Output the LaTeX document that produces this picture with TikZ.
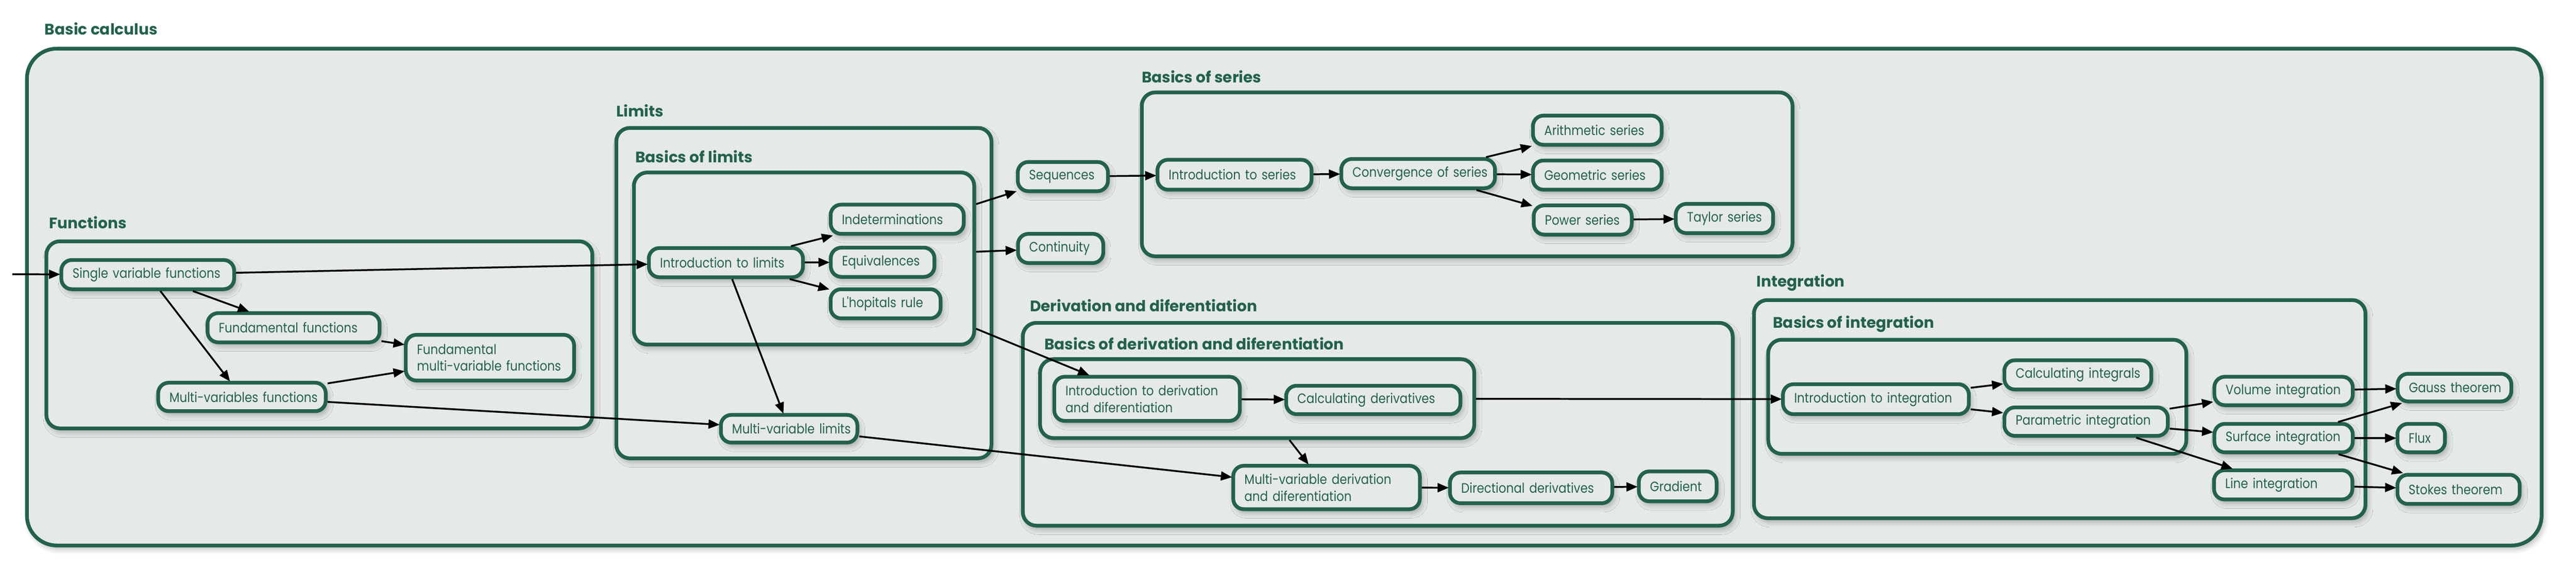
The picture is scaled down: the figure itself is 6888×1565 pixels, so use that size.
\documentclass[tikz,border=0pt]{standalone}
\usepackage{fontspec}
\setmainfont{Poppins}
\newfontfamily\ndfont{Poppins}[FakeStretch=0.87]
\newfontfamily\lblfont{Poppins}
\usetikzlibrary{arrows.meta,shadows.blur}
\definecolor{dg}{RGB}{35,97,79}
\definecolor{bg}{RGB}{229,233,231}
\begin{document}
\begin{tikzpicture}[x=0.25pt,y=-0.25pt,
  shad/.style={blur shadow={shadow xshift=1.5pt,shadow yshift=-2.5pt,shadow blur radius=3.5pt,shadow opacity=28}},
  grp/.style={draw=dg,fill=bg,line width=2.5pt,rounded corners=9pt,inner sep=0pt,shad},
  nd/.style={draw=dg,fill=bg,line width=2.5pt,rounded corners=7pt,text=dg,
    font=\ndfont\fontsize{9.1}{11.2}\selectfont,align=left,inner xsep=7.5pt,inner ysep=0pt,shad},
  glabel/.style={text=dg,font=\lblfont\bfseries\fontsize{10.2}{12}\selectfont,anchor=base west,inner sep=0pt},
  arr/.style={-{Triangle[length=7.5pt,width=6pt]},line width=1.2pt,black,shorten >=-0.5pt}
]
\useasboundingbox (0,0) rectangle (6888,1565);
% groups
\node[grp,rounded corners=20pt,minimum width=1681pt,minimum height=332pt] (outer) at (3434,794) {};
\node[glabel] (louter) at (119,93) {Basic calculus};
\node[grp,minimum width=365pt,minimum height=125pt] (fun) at (854,895) {};
\node[glabel] (lfun) at (131,611) {Functions};
\node[grp,minimum width=250.75pt,minimum height=220.75pt] (lim) at (2149.5,783.5) {};
\node[glabel] (llim) at (1647,312) {Limits};
\node[grp,minimum width=227.5pt,minimum height=115pt] (bol) at (2150,691) {};
\node[glabel] (lbol) at (1698,435) {Basics of limits};
\node[grp,minimum width=435pt,minimum height=109.5pt] (bos) at (3923,466) {};
\node[glabel] (lbos) at (3052,221) {Basics of series};
\node[grp,minimum width=474.5pt,minimum height=135.5pt] (der) at (3684,1134) {};
\node[glabel] (lder) at (2753,833) {Derivation and diferentiation};
\node[grp,minimum width=290.25pt,minimum height=52.75pt] (bod) at (3361.5,1065.5) {};
\node[glabel] (lbod) at (2792,935) {Basics of derivation and diferentiation};
\node[grp,minimum width=408.75pt,minimum height=145.75pt] (int) at (5507.5,1093.5) {};
\node[glabel] (lint) at (4696,767) {Integration};
\node[grp,minimum width=279.5pt,minimum height=76.25pt] (boi) at (5287,1060.5) {};
\node[glabel] (lboi) at (4740,877) {Basics of integration};
% nodes
\node[nd,text width=100.5pt,minimum height=19.5pt] (svf) at (395,734) {\mbox{Single variable functions}};
\node[nd,text width=100pt,minimum height=19.5pt] (ff) at (785,876) {\mbox{Fundamental functions}};
\node[nd,text width=97.5pt,minimum height=30.5pt] (fmvf) at (1310,956) {\mbox{Fundamental}\\\mbox{multi-variable functions}};
\node[nd,text width=97pt,minimum height=19pt] (mvf) at (647,1061) {\mbox{Multi-variables functions}};
\node[nd,text width=88pt,minimum height=19.5pt] (il) at (1941,702) {\mbox{Introduction to limits}};
\node[nd,text width=74pt,minimum height=19.5pt] (ind) at (2399,586) {\mbox{Indeterminations}};
\node[nd,text width=54.25pt,minimum height=19.5pt] (eq) at (2360,701) {\mbox{Equivalences}};
\node[nd,text width=58.5pt,minimum height=19.5pt] (lh) at (2368,812) {\mbox{L'hopitals rule}};
\node[nd,text width=76.25pt,minimum height=18.5pt] (mvl) at (2110,1146) {\mbox{Multi-variable limits}};
\node[nd,text width=45.25pt,minimum height=19.5pt] (seq) at (2842,472) {\mbox{Sequences}};
\node[nd,text width=42pt,minimum height=19.5pt] (cont) at (2836,664) {\mbox{Continuity}};
\node[nd,text width=88pt,minimum height=20pt] (is) at (3301,467) {\mbox{Introduction to series}};
\node[nd,text width=87.75pt,minimum height=19.5pt] (cs) at (3792,464) {\mbox{Convergence of series}};
\node[nd,text width=71pt,minimum height=19.5pt] (as) at (4271,348) {\mbox{Arithmetic series}};
\node[nd,text width=71pt,minimum height=19.5pt] (gs) at (4271,468) {\mbox{Geometric series}};
\node[nd,text width=50.5pt,minimum height=19.5pt] (ps) at (4232,588) {\mbox{Power series}};
\node[nd,text width=50pt,minimum height=19.5pt] (ts) at (4611,584) {\mbox{Taylor series}};
\node[nd,text width=109pt,minimum height=29.5pt] (id) at (3067,1066) {\mbox{Introduction to derivation}\\\mbox{and diferentiation}};
\node[nd,text width=101.5pt,minimum height=19pt] (cd) at (3672,1069) {\mbox{Calculating derivatives}};
\node[nd,text width=109.75pt,minimum height=29pt] (mvd) at (3547,1303) {\mbox{Multi-variable derivation}\\\mbox{and diferentiation}};
\node[nd,text width=93.5pt,minimum height=20.5pt] (dd) at (4094,1304) {\mbox{Directional derivatives}};
\node[nd,text width=37pt,minimum height=20pt] (gr) at (4486,1300) {\mbox{Gradient}};
\node[nd,text width=109.25pt,minimum height=20pt] (ii) at (5016,1067) {\mbox{Introduction to integration}};
\node[nd,text width=83.25pt,minimum height=19.5pt] (ci) at (5556,1002) {\mbox{Calculating integrals}};
\node[nd,text width=94.25pt,minimum height=19pt] (pi) at (5578,1127) {\mbox{Parametric integration}};
\node[nd,text width=77.5pt,minimum height=19pt] (vi) at (6106,1045) {\mbox{Volume integration}};
\node[nd,text width=77.5pt,minimum height=19pt] (si) at (6106,1171) {\mbox{Surface integration}};
\node[nd,text width=77.5pt,minimum height=19.5pt] (li) at (6105,1296) {\mbox{Line integration}};
\node[nd,text width=61pt,minimum height=18.5pt] (gt) at (6563,1036) {\mbox{Gauss theorem}};
\node[nd,text width=16.75pt,minimum height=19pt] (fl) at (6474,1171) {\mbox{Flux}};
\node[nd,text width=66.75pt,minimum height=19.5pt] (st) at (6574,1308) {\mbox{Stokes theorem}};
\coordinate (start) at (33,733);
% edges
\draw[arr] (start) -- (svf);
\draw[arr] (svf) -- (ff);
\draw[arr] (svf) -- (mvf);
\draw[arr] (svf) -- (il);
\draw[arr] (ff) -- (fmvf);
\draw[arr] (mvf) -- (fmvf);
\draw[arr] (mvf) -- (mvl);
\draw[arr] (il) -- (ind);
\draw[arr] (il) -- (eq);
\draw[arr] (il) -- (lh);
\draw[arr] (il) -- (mvl);
\draw[arr] (bol) -- (seq);
\draw[arr] (bol) -- (cont);
\draw[arr] (bol) -- (id);
\draw[arr] (mvl) -- (mvd);
\draw[arr] (seq) -- (is);
\draw[arr] (is) -- (cs);
\draw[arr] (cs) -- (as);
\draw[arr] (cs) -- (gs);
\draw[arr] (cs) -- (ps);
\draw[arr] (ps) -- (ts);
\draw[arr] (id) -- (cd);
\draw[arr] (bod) -- (mvd);
\draw[arr] (bod) -- (ii);
\draw[arr] (mvd) -- (dd);
\draw[arr] (dd) -- (gr);
\draw[arr] (ii) -- (ci);
\draw[arr] (ii) -- (pi);
\draw[arr] (pi) -- (vi);
\draw[arr] (pi) -- (si);
\draw[arr] (pi) -- (li);
\draw[arr] (vi) -- (gt);
\draw[arr] (si) -- (gt);
\draw[arr] (si) -- (fl);
\draw[arr] (si) -- (st);
\draw[arr] (li) -- (st);
\end{tikzpicture}
\end{document}
